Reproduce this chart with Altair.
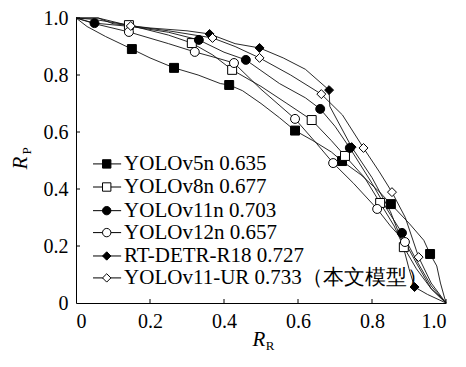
import altair as alt
import pandas as pd

models = ["YOLOv5n", "YOLOv8n", "YOLOv11n", "YOLOv12n", "RT-DETR-R18", "YOLOv11-UR"]
labels = ["YOLOv5n 0.635", "YOLOv8n 0.677", "YOLOv11n 0.703", "YOLOv12n 0.657",
          "RT-DETR-R18 0.727", "YOLOv11-UR 0.733（本文模型）"]
shapes = ["square", "square", "circle", "circle", "diamond", "diamond"]
fills = ["black", "white", "black", "white", "black", "white"]

# PR curves (recall R_R, precision R_P)
curve_r = {
    "YOLOv5n": [0, 0.03, 0.08, 0.151, 0.20, 0.265, 0.33, 0.39, 0.414, 0.45, 0.50, 0.55, 0.592, 0.64, 0.69, 0.719, 0.77, 0.82, 0.851, 0.90, 0.94, 0.957, 0.975, 0.985, 1.0],
    "YOLOv8n": [0, 0.05, 0.143, 0.25, 0.313, 0.37, 0.422, 0.50, 0.57, 0.637, 0.69, 0.727, 0.78, 0.822, 0.86, 0.886, 0.92, 0.96, 1.0],
    "YOLOv11n": [0, 0.05, 0.15, 0.25, 0.332, 0.40, 0.459, 0.55, 0.62, 0.66, 0.70, 0.74, 0.80, 0.84, 0.881, 0.92, 0.96, 1.0],
    "YOLOv12n": [0, 0.05, 0.143, 0.25, 0.321, 0.38, 0.427, 0.50, 0.592, 0.65, 0.695, 0.75, 0.814, 0.85, 0.889, 0.92, 0.96, 1.0],
    "RT-DETR-R18": [0, 0.06, 0.10, 0.20, 0.30, 0.361, 0.43, 0.496, 0.56, 0.62, 0.684, 0.686, 0.745, 0.80, 0.85, 0.88, 0.90, 0.915, 0.95, 1.0],
    "YOLOv11-UR": [0, 0.06, 0.148, 0.25, 0.369, 0.43, 0.496, 0.58, 0.663, 0.72, 0.777, 0.82, 0.854, 0.89, 0.926, 0.96, 1.0],
}
curve_p = {
    "YOLOv5n": [1.0, 0.97, 0.935, 0.891, 0.86, 0.825, 0.80, 0.77, 0.765, 0.745, 0.70, 0.65, 0.605, 0.57, 0.53, 0.498, 0.45, 0.39, 0.347, 0.28, 0.22, 0.172, 0.13, 0.07, 0.0],
    "YOLOv8n": [1.0, 0.995, 0.975, 0.94, 0.912, 0.87, 0.818, 0.76, 0.70, 0.642, 0.57, 0.516, 0.44, 0.351, 0.27, 0.196, 0.12, 0.05, 0.0],
    "YOLOv11n": [1.0, 0.982, 0.97, 0.95, 0.923, 0.88, 0.853, 0.77, 0.72, 0.681, 0.62, 0.544, 0.42, 0.33, 0.246, 0.15, 0.06, 0.0],
    "YOLOv12n": [1.0, 0.98, 0.951, 0.91, 0.881, 0.86, 0.842, 0.75, 0.646, 0.56, 0.491, 0.42, 0.330, 0.27, 0.214, 0.14, 0.05, 0.0],
    "RT-DETR-R18": [1.0, 1.0, 0.98, 0.965, 0.955, 0.944, 0.91, 0.895, 0.86, 0.82, 0.747, 0.69, 0.547, 0.44, 0.32, 0.22, 0.12, 0.056, 0.03, 0.0],
    "YOLOv11-UR": [1.0, 1.0, 0.972, 0.955, 0.930, 0.90, 0.86, 0.80, 0.733, 0.66, 0.544, 0.46, 0.389, 0.30, 0.161, 0.07, 0.0],
}
# marker positions
mark_r = {
    "YOLOv5n": [0.151, 0.265, 0.414, 0.592, 0.719, 0.851, 0.957],
    "YOLOv8n": [0.143, 0.313, 0.422, 0.637, 0.727, 0.822, 0.886],
    "YOLOv11n": [0.05, 0.332, 0.459, 0.66, 0.74, 0.881],
    "YOLOv12n": [0.143, 0.321, 0.427, 0.592, 0.695, 0.814, 0.889],
    "RT-DETR-R18": [0.361, 0.496, 0.684, 0.745, 0.915],
    "YOLOv11-UR": [0.148, 0.369, 0.496, 0.663, 0.777, 0.854, 0.926],
}
mark_p = {
    "YOLOv5n": [0.891, 0.825, 0.765, 0.605, 0.498, 0.347, 0.172],
    "YOLOv8n": [0.975, 0.912, 0.818, 0.642, 0.516, 0.351, 0.196],
    "YOLOv11n": [0.982, 0.923, 0.853, 0.681, 0.544, 0.246],
    "YOLOv12n": [0.951, 0.881, 0.842, 0.646, 0.491, 0.330, 0.214],
    "RT-DETR-R18": [0.944, 0.895, 0.747, 0.547, 0.056],
    "YOLOv11-UR": [0.972, 0.930, 0.860, 0.733, 0.544, 0.389, 0.161],
}
axis_ticks = [0, 0.2, 0.4, 0.6, 0.8, 1.0]

# legend layout (in axis units)
leg_y = [0.488, 0.407, 0.324, 0.247, 0.165, 0.088]
leg_x0, leg_xm, leg_x1, leg_xt = 0.046, 0.083, 0.122, 0.130

FONT = "Liberation Serif"
W, H = 370, 285

rows = []
for m in models:
    for i, (r, p) in enumerate(zip(curve_r[m], curve_p[m])):
        rows.append({"model": m, "R": r, "P": p, "o": i})
lines_df = pd.DataFrame(rows)
mrows = []
for m in models:
    for r, p in zip(mark_r[m], mark_p[m]):
        mrows.append({"model": m, "R": r, "P": p})
marks_df = pd.DataFrame(mrows)
leg_df = pd.DataFrame({"model": models, "label": labels, "y": leg_y,
                       "x0": leg_x0, "xm": leg_xm, "x1": leg_x1, "xt": leg_xt})
tick_df = pd.DataFrame({"v": axis_ticks[1:]})

xs = alt.Scale(domain=[0, 1], nice=False, zero=False)
ys = alt.Scale(domain=[0, 1], nice=False, zero=False)
shape_sc = alt.Scale(domain=models, range=shapes)
fill_sc = alt.Scale(domain=models, range=fills)
lab_expr = "datum.value == 0 ? '0' : format(datum.value, '.1f')"

lines = alt.Chart(lines_df).mark_line(color="#111111", strokeWidth=0.9).encode(
    x=alt.X("R:Q", scale=xs, axis=alt.Axis(values=axis_ticks, labelExpr=lab_expr, title=None)),
    y=alt.Y("P:Q", scale=ys, axis=alt.Axis(values=axis_ticks, labelExpr=lab_expr, title=None)),
    detail="model:N",
    order="o:Q",
)
pts = alt.Chart(marks_df).mark_point(filled=True, stroke="black", strokeWidth=1, opacity=1, size=80).encode(
    x=alt.X("R:Q", scale=xs),
    y=alt.Y("P:Q", scale=ys),
    shape=alt.Shape("model:N", scale=shape_sc, legend=None),
    fill=alt.Fill("model:N", scale=fill_sc, legend=None),
)
leg_line = alt.Chart(leg_df).mark_rule(color="black", strokeWidth=1).encode(
    x=alt.X("x0:Q", scale=xs), x2="x1:Q", y=alt.Y("y:Q", scale=ys))
leg_pt = alt.Chart(leg_df).mark_point(filled=True, stroke="black", strokeWidth=1, opacity=1, size=70).encode(
    x=alt.X("xm:Q", scale=xs), y=alt.Y("y:Q", scale=ys),
    shape=alt.Shape("model:N", scale=shape_sc, legend=None),
    fill=alt.Fill("model:N", scale=fill_sc, legend=None),
)
leg_txt = alt.Chart(leg_df).mark_text(align="left", baseline="middle", font=FONT, fontSize=21, color="black").encode(
    x=alt.X("xt:Q", scale=xs), y=alt.Y("y:Q", scale=ys), text="label:N")

yt = alt.Chart(tick_df).mark_rule(color="black", strokeWidth=1).encode(
    y=alt.Y("v:Q", scale=ys), x=alt.value(0), x2=alt.value(4))
xt = alt.Chart(tick_df).mark_rule(color="black", strokeWidth=1).encode(
    x=alt.X("v:Q", scale=xs), y=alt.value(H), y2=alt.value(H - 4))

t_rp = alt.Chart(pd.DataFrame({"t": ["R"]})).mark_text(font=FONT, fontSize=21, fontStyle="italic", angle=270, baseline="middle", color="black").encode(
    text="t:N", x=alt.value(-55), y=alt.value(145))
t_rp_s = alt.Chart(pd.DataFrame({"t": ["P"]})).mark_text(font=FONT, fontSize=13, angle=270, baseline="middle", color="black").encode(
    text="t:N", x=alt.value(-49), y=alt.value(133))
t_rr = alt.Chart(pd.DataFrame({"t": ["R"]})).mark_text(font=FONT, fontSize=21, fontStyle="italic", baseline="middle", color="black").encode(
    text="t:N", x=alt.value(183), y=alt.value(322))
t_rr_s = alt.Chart(pd.DataFrame({"t": ["R"]})).mark_text(font=FONT, fontSize=13, baseline="middle", color="black").encode(
    text="t:N", x=alt.value(194), y=alt.value(328))

chart = alt.layer(lines, pts, leg_line, leg_pt, leg_txt, yt, xt, t_rp, t_rp_s, t_rr, t_rr_s).properties(
    width=W, height=H,
    autosize=alt.AutoSizeParams(type="none"),
    padding={"left": 68, "top": 10, "right": 12, "bottom": 50},
    background="white",
).configure_view(stroke=None).configure_axis(
    grid=False, domainColor="black", domainWidth=1, tickSize=0,
    labelFont=FONT, labelFontSize=20, labelColor="black", labelPadding=8,
)

chart.save("out.html", embed_options={"renderer": "svg", "actions": False})
